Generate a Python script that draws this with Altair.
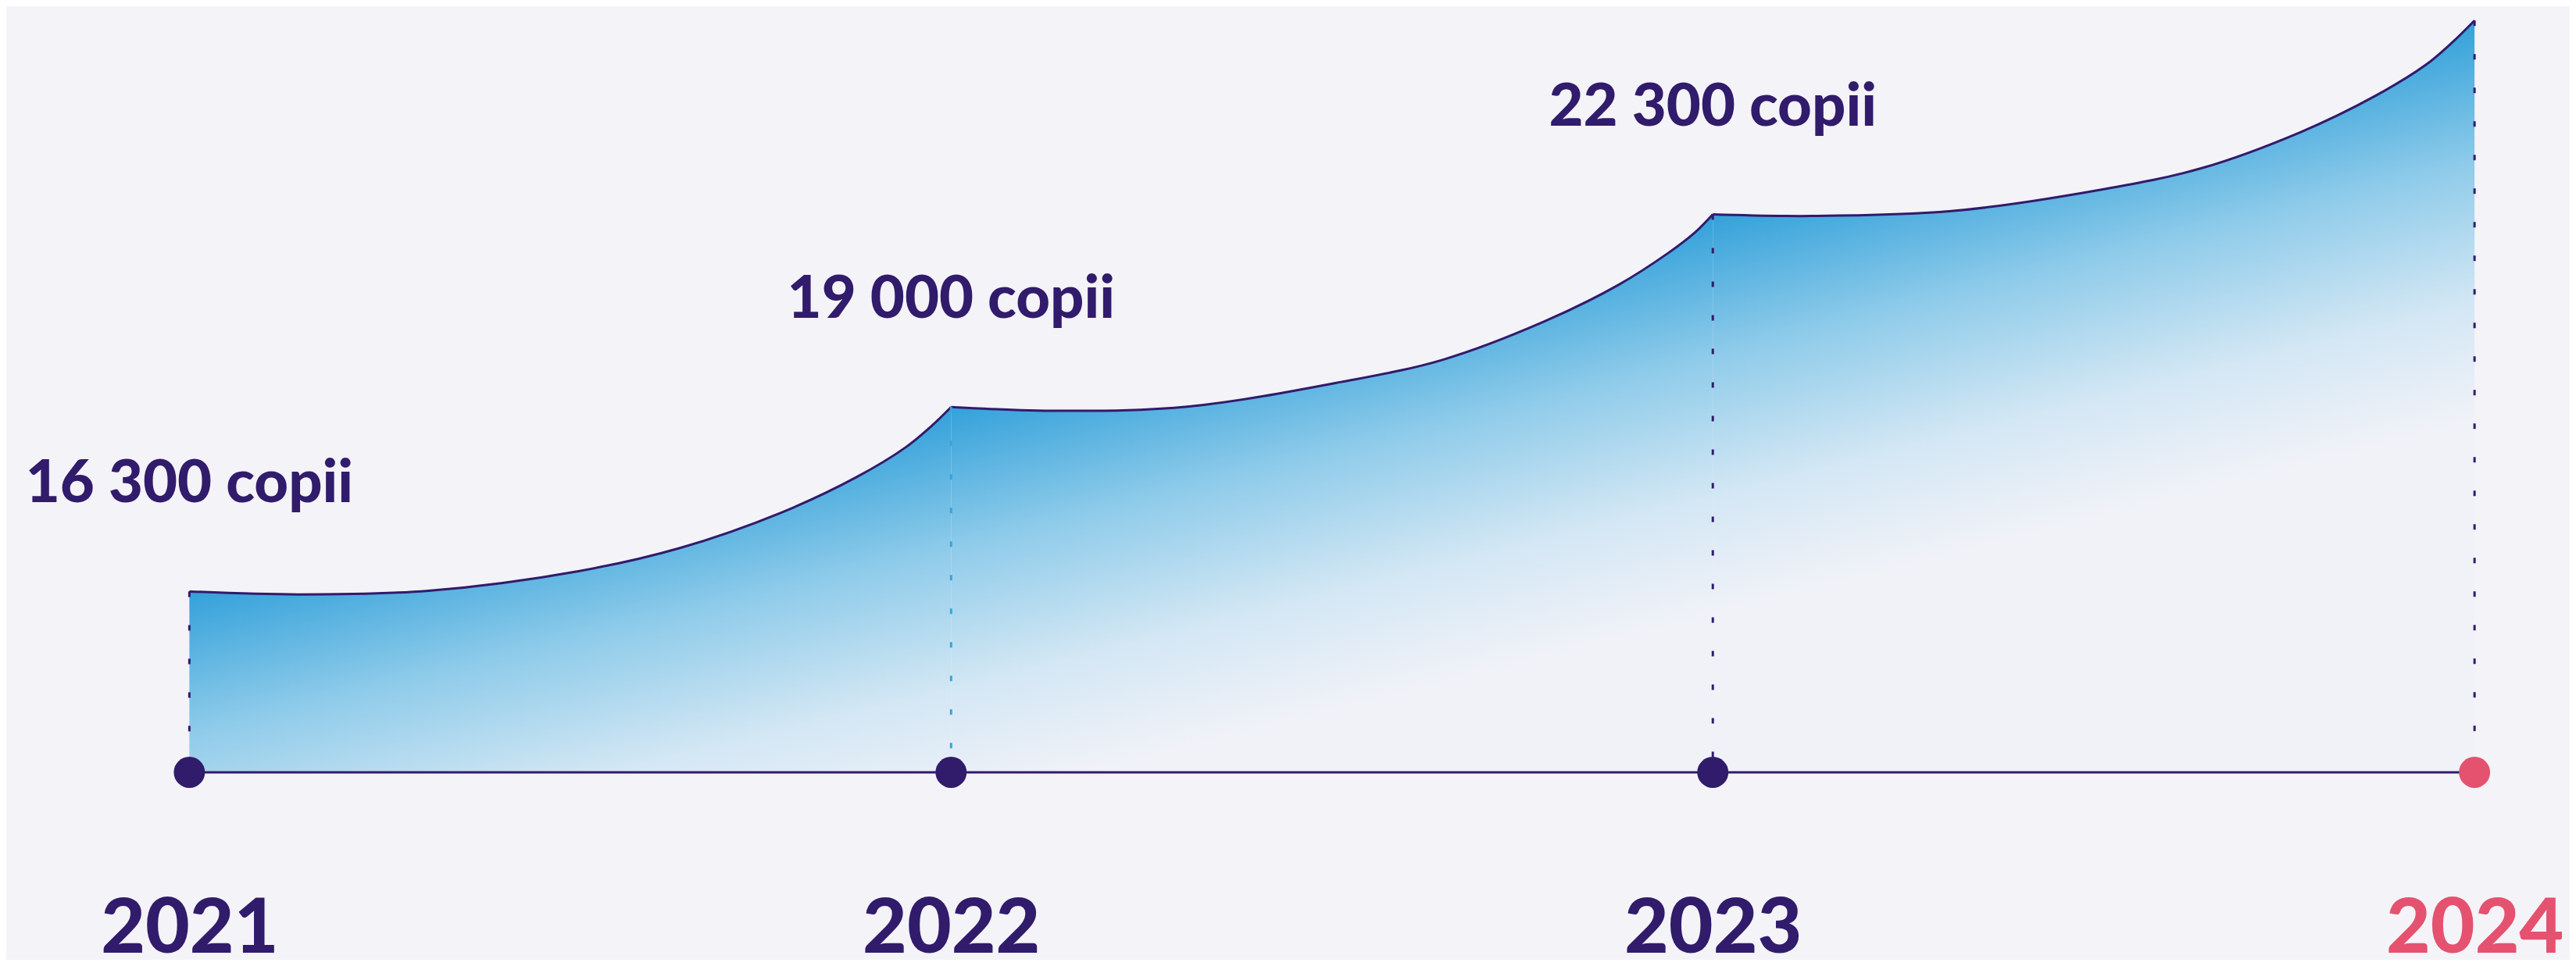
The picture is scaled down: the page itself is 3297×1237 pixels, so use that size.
import altair as alt
import pandas as pd

# ---- data ----
years = [2021, 2022, 2023, 2024]
copies = [16300, 19000, 22300, 26200]          # 2024 value unlabeled, estimated from height
labelled_years = [2021, 2022, 2023]

# points along the top curve of each yearly segment (fraction of the year, copies)
seg1_t = [0, 0.143, 0.314, 0.512, 0.644, 0.776, 0.875, 0.941, 0.974, 1]
seg1_v = [16300, 16260, 16310, 16580, 16900, 17400, 17920, 18380, 18700, 19000]
seg2_t = [0, 0.141, 0.313, 0.512, 0.645, 0.777, 0.876, 0.942, 0.976, 1]
seg2_v = [19000, 18940, 19010, 19400, 19760, 20390, 21030, 21600, 21960, 22300]
seg3_t = [0, 0.129, 0.313, 0.509, 0.641, 0.772, 0.870, 0.936, 0.969, 1]
seg3_v = [22300, 22270, 22360, 22760, 23170, 23880, 24610, 25250, 25700, 26200]

BASE = 14025      # value at the baseline (log scale floor)
TOP = 26511       # value at the top of the plot

BG = "#f4f3f8"
PURPLE = "#311b6b"
PINK = "#e4526f"
BLUE = "#38a4dc"
FONT = "Lato"
CURVE = "catmull-rom"

# ---- tables ----
rows = []
for seg, (start, ts, vs) in enumerate([(2021, seg1_t, seg1_v), (2022, seg2_t, seg2_v), (2023, seg3_t, seg3_v)], 1):
    for t, v in zip(ts, vs):
        rows.append({"seg": seg, "x": start + t, "v": v, "base": BASE})
curve = pd.DataFrame(rows)

pts = pd.DataFrame({
    "year": years,
    "v": copies,
    "base": [BASE] * 4,
    "dot": [PURPLE, PURPLE, PURPLE, PINK],
    "dash": [PURPLE, BLUE, PURPLE, PURPLE],
})
labels = pd.DataFrame({
    "year": labelled_years,
    "v": copies[:3],
    "txt": [f"{c:,}".replace(",", " ") + " copii" for c in copies[:3]],
})
axis_line = pd.DataFrame({"x": [years[0]], "x2": [years[-1]], "base": [BASE]})

# ---- scales / axes ----
xs = alt.Scale(domain=[2020.7596, 2024.125], nice=False, zero=False)
ys = alt.Scale(type="log", domain=[BASE, TOP], nice=False, zero=False)
xa = alt.Axis(
    values=years, format="d", title=None, domain=False, ticks=False, grid=False,
    labelFontSize=98, labelFont=FONT, labelFontWeight=900, labelLimit=0,
    labelPadding=230, labelBaseline="alphabetic", labelOverlap=False,
    labelColor=alt.condition("datum.value == 2024", alt.value(PINK), alt.value(PURPLE)),
)


def X(f):
    return alt.X(f, type="quantitative", scale=xs, axis=xa)


def Y(f):
    return alt.Y(f, type="quantitative", scale=ys, axis=None)


def grad(a, s):
    return alt.Gradient(
        gradient="linear", x1=0, y1=a, x2=a * s, y2=a + s,
        stops=[
            alt.GradientStop(offset=0, color="#33a1da"),
            alt.GradientStop(offset=0.35, color="#8ecbea"),
            alt.GradientStop(offset=0.7, color="#d3e7f4"),
            alt.GradientStop(offset=1, color="#f1f2f8"),
        ],
    )


grads = {1: grad(0.505, 0.877), 2: grad(0.345, 0.644), 3: grad(0.258, 0.5016)}

base_c = alt.Chart(curve)
areas = [
    base_c.transform_filter(alt.datum.seg == k)
    .mark_area(fill=grads[k], interpolate=CURVE)
    .encode(x=X("x"), y=Y("v"), y2=alt.Y2("base"))
    for k in (1, 2, 3)
]

line = base_c.mark_line(color=PURPLE, strokeWidth=3, interpolate=CURVE).encode(
    x=X("x"), y=Y("v"), detail="seg:N"
)

baseline = alt.Chart(axis_line).mark_rule(color=PURPLE, strokeWidth=3).encode(
    x=X("x"), x2=alt.X2("x2"), y=Y("base")
)

dashes = alt.Chart(pts).mark_rule(strokeWidth=3, strokeDash=[7, 36]).encode(
    x=X("year"), y=Y("v"), y2=alt.Y2("base"), color=alt.Color("dash:N", scale=None)
)

dots = alt.Chart(pts).mark_point(filled=True, opacity=1, size=1590, shape="circle").encode(
    x=X("year"), y=Y("base"), color=alt.Color("dot:N", scale=None)
)

texts = alt.Chart(labels).mark_text(
    font=FONT, fontWeight=900, fontSize=76, color=PURPLE,
    align="center", baseline="alphabetic", dy=-114,
).encode(x=X("year"), y=Y("v"), text="txt:N")

chart = alt.layer(*areas, line, baseline, dashes, dots, texts).properties(
    width=3281, height=981,
    autosize=alt.AutoSizeParams(type="none"),
    padding={"left": 0, "top": 0, "right": 0, "bottom": 240},
    background=BG,
).configure_view(strokeWidth=0)

chart.save("out.html", embed_options={"renderer": "svg", "actions": False})
